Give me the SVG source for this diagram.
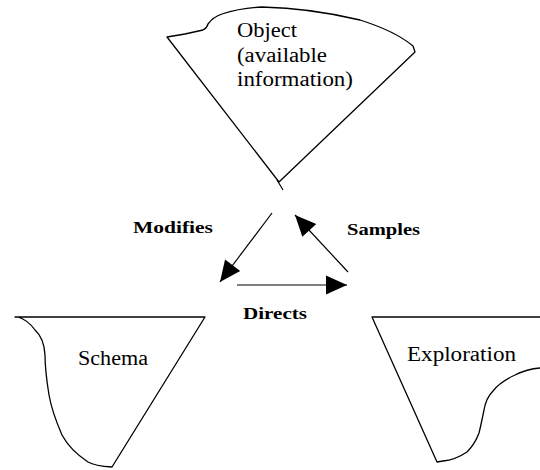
<svg xmlns="http://www.w3.org/2000/svg" width="540" height="470" viewBox="0 0 540 470">
<style>
.shape{fill:#fff;stroke:#000;stroke-width:1.3;stroke-linejoin:round;stroke-linecap:round}
.lbl{font-family:"Liberation Serif","Times New Roman",serif;font-size:20px;fill:#000}
.bold{font-family:"Liberation Serif","Times New Roman",serif;font-size:17px;font-weight:bold;fill:#000}
.conn{stroke:#000;stroke-width:1.2;fill:none}
</style>
<defs>
<marker id="ah" markerUnits="userSpaceOnUse" markerWidth="26" markerHeight="24" viewBox="-24 -12 26 24" refX="0" refY="0" orient="auto">
<path d="M0,0 L-21,-9.5 L-21,9.5 Z" fill="#000"/>
</marker>
</defs>
<rect width="540" height="470" fill="#fff"/>
<g id="object">
<path class="shape" d="M167,37 L185,34 L203,30 Q207,28 208,24 Q213,17 222,14 Q240,8 262,7 Q310,8 360,20 Q395,31 413,46 L415,52 L279,182 Z"/>
<path class="conn" d="M277,180 L283,190"/>
<text class="lbl" x="237" y="37" textLength="60" lengthAdjust="spacingAndGlyphs">Object</text>
<text class="lbl" x="237" y="62" textLength="90" lengthAdjust="spacingAndGlyphs">(available</text>
<text class="lbl" x="237" y="86" textLength="116" lengthAdjust="spacingAndGlyphs">information)</text>
</g>
<g id="schema">
<path class="shape" d="M15,317 L205,317 L112,467 Q95,466 88,462 Q70,450 62,435 Q52,412 49,395 Q45,370 45,355 Q44,338 35,330 Q28,320 18,317 Z"/>
<text class="lbl" x="78" y="365" textLength="70" lengthAdjust="spacingAndGlyphs">Schema</text>
</g>
<g id="exploration">
<path class="shape" d="M372,317 L545,317 L545,368 L540,368 Q527,369 515,375 Q500,382 493,391 Q486,398 484,410 Q481,425 479,433 Q475,444 467,452 Q455,460 443,461 L437,462 Z"/>
<text class="lbl" x="407" y="361" textLength="109" lengthAdjust="spacingAndGlyphs">Exploration</text>
</g>
<g id="connectors">
<line class="conn" x1="272" y1="213" x2="220" y2="282" marker-end="url(#ah)"/>
<line class="conn" x1="237" y1="285" x2="347" y2="285" marker-end="url(#ah)"/>
<line class="conn" x1="348" y1="272" x2="295" y2="215" marker-end="url(#ah)"/>
<text class="bold" x="133" y="233" textLength="80" lengthAdjust="spacingAndGlyphs">Modifies</text>
<text class="bold" x="347" y="235" textLength="73" lengthAdjust="spacingAndGlyphs">Samples</text>
<text class="bold" x="243" y="319" textLength="64" lengthAdjust="spacingAndGlyphs">Directs</text>
</g>
</svg>
